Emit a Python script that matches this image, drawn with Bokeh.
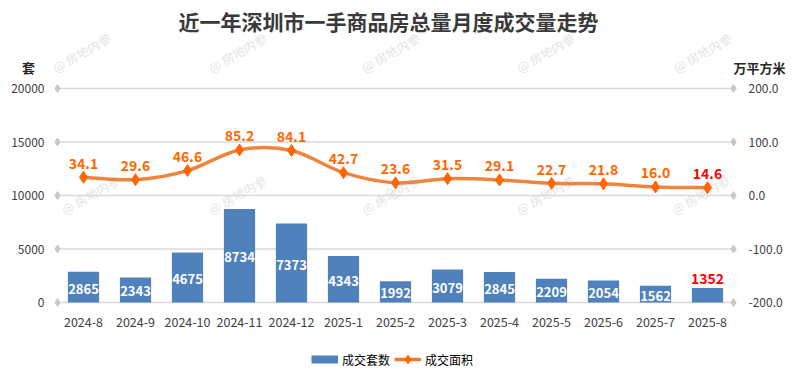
from bokeh.plotting import figure
from bokeh.layouts import column
from bokeh.models import (Range1d, LinearAxis, FixedTicker, NumeralTickFormatter,
                          Legend, LegendItem, ColumnDataSource)
from bokeh.core.properties import value
from bokeh.embed import file_html
from bokeh.resources import INLINE

# ---------------- data ----------------
months = ["2024-8", "2024-9", "2024-10", "2024-11", "2024-12", "2025-1", "2025-2",
          "2025-3", "2025-4", "2025-5", "2025-6", "2025-7", "2025-8"]
units = [2865, 2343, 4675, 8734, 7373, 4343, 1992, 3079, 2845, 2209, 2054, 1562, 1352]
area = [34.1, 29.6, 46.6, 85.2, 84.1, 42.7, 23.6, 31.5, 29.1, 22.7, 21.8, 16.0, 14.6]
left_ticks = [0, 5000, 10000, 15000, 20000]
right_ticks = [-200, -100, 0, 100, 200]
title_text = "近一年深圳市一手商品房总量月度成交量走势"
left_unit = "套"
right_unit = "万平方米"
series_names = ["成交套数", "成交面积"]
watermark = "@ 房地内参"

# ---------------- style / layout ----------------
FONT = "Noto Sans CJK SC"
BLUE = "#4F81BD"
LINE_ORANGE = "#EE7D33"
MARK_ORANGE = "#FF6600"
RED = "#FF0000"
GRID = "#D9D9D9"
TXT = "#404040"
WM_COLOR = "#B4B4B4"
WM_ALPHA = 0.4
WM_ANGLE = 0.52
WM_SIZE = "12.5px"

W = 789
HDR_H = 78           # header strip (title, units)
MAIN_H = 254         # plot with axes
FTR_H = 48           # legend strip
L, R, B = 54, 52, 26
n = len(months)
xs = list(range(n))

# pixel scale of the main plot
PX_PER_CAT = 52.0
PX_PER_UNIT = 0.0107
X0_PX = 83.0          # page x of first category
Y0_PX = 302.0         # page y of value 0
frame_top, frame_bot = HDR_H, HDR_H + MAIN_H - B
x_start = (L - X0_PX) / PX_PER_CAT
x_end = (W - R - X0_PX) / PX_PER_CAT
y_start = (Y0_PX - frame_bot) / PX_PER_UNIT
y_end = (Y0_PX - frame_top) / PX_PER_UNIT


def bare(height):
    f = figure(width=W, height=height, output_backend="svg", toolbar_location=None,
               x_range=Range1d(0, W), y_range=Range1d(height, 0),
               x_axis_location=None, y_axis_location=None, title=None,
               min_border=0, min_border_left=0, min_border_right=0,
               min_border_top=0, min_border_bottom=0)
    f.outline_line_color = None
    f.grid.visible = False
    f.frame_align = False
    return f


# ---------------- header ----------------
hdr = bare(HDR_H)
wm_cols_a = [81, 237, 390, 545, 702]
wm_cols_b = [90, 237, 390, 545, 700]
hdr.text(x=wm_cols_a, y=[52] * len(wm_cols_a), text=[watermark] * len(wm_cols_a),
         text_align="center", text_baseline="middle", angle=WM_ANGLE,
         text_font=value(FONT), text_font_size=WM_SIZE,
         text_color=WM_COLOR, text_alpha=WM_ALPHA)
hdr.text(x=[388], y=[20], text=[title_text], text_align="center", text_baseline="middle",
         text_font=value(FONT), text_font_style="bold", text_font_size="21px",
         text_color="#3A3A3A")
hdr.text(x=[28, 759], y=[67, 67], text=[left_unit, right_unit], text_align="center",
         text_baseline="middle", text_font=value(FONT), text_font_style="bold",
         text_font_size="13px", text_color="#262626")

# ---------------- main plot ----------------
p = figure(width=W, height=MAIN_H, output_backend="svg", toolbar_location=None,
           x_range=Range1d(x_start, x_end), y_range=Range1d(y_start, y_end), title=None,
           min_border_left=L, min_border_right=R, min_border_top=0, min_border_bottom=B)
p.frame_align = False
p.extra_y_ranges = {"right": Range1d(y_start / 50 - 200, y_end / 50 - 200)}
p.outline_line_color = None
p.xgrid.visible = False
p.ygrid.visible = False

p.xaxis.ticker = FixedTicker(ticks=xs)
p.xaxis.major_label_overrides = {i: m for i, m in enumerate(months)}
p.yaxis.ticker = FixedTicker(ticks=left_ticks)
p.yaxis.formatter = NumeralTickFormatter(format="0")
right_axis = LinearAxis(y_range_name="right", ticker=FixedTicker(ticks=right_ticks),
                        formatter=NumeralTickFormatter(format="0.0"))
p.add_layout(right_axis, "right")
for ax in p.axis:
    ax.axis_line_color = None
    ax.major_tick_line_color = None
    ax.minor_tick_line_color = None
    ax.major_label_text_font = FONT
    ax.major_label_text_font_size = "12px"
    ax.major_label_text_color = TXT
p.xaxis.major_label_text_font_size = "12.5px"
p.xaxis.major_label_standoff = 4
p.yaxis[0].major_label_standoff = 4
right_axis.major_label_standoff = 5

# watermarks inside the plot (page pixels -> data)
p.text(x=[(c - X0_PX) / PX_PER_CAT for c in wm_cols_b],
       y=[(Y0_PX - 194) / PX_PER_UNIT] * len(wm_cols_b), text=[watermark] * len(wm_cols_b),
       text_align="center", text_baseline="middle", angle=WM_ANGLE,
       text_font=value(FONT), text_font_size=WM_SIZE,
       text_color=WM_COLOR, text_alpha=WM_ALPHA)

# gridlines with diamond ends
p.segment(x0=[-0.5] * len(left_ticks), x1=[n - 0.5] * len(left_ticks),
          y0=left_ticks, y1=left_ticks, line_color=GRID, line_width=1.6)
p.scatter(x=[-0.5] * len(left_ticks) + [n - 0.5] * len(left_ticks),
          y=left_ticks + left_ticks, marker="diamond", size=8,
          fill_color="#C8C8C8", line_color="#C8C8C8")

# bars
p.vbar(x=xs, top=units, width=0.6, fill_color=BLUE, line_color=None)
p.text(x=xs[:-1], y=[v / 2 for v in units[:-1]], text=[str(v) for v in units[:-1]],
       text_align="center", text_baseline="middle", y_offset=1.5,
       text_font=value(FONT), text_font_style="bold", text_font_size="13px",
       text_color="white")
p.text(x=xs[-1:], y=units[-1:], text=[str(v) for v in units[-1:]],
       text_align="center", text_baseline="middle", y_offset=-10,
       text_font=value(FONT), text_font_style="bold", text_font_size="14px",
       text_color=RED)

# smooth line (Catmull-Rom as cubic Bezier segments between the data points)
bz = dict(x0=[], y0=[], x1=[], y1=[], cx0=[], cy0=[], cx1=[], cy1=[])
for i in range(n - 1):
    a, b = max(i - 1, 0), min(i + 2, n - 1)
    bz["x0"].append(xs[i]); bz["y0"].append(area[i])
    bz["x1"].append(xs[i + 1]); bz["y1"].append(area[i + 1])
    bz["cx0"].append(xs[i] + (xs[i + 1] - xs[a]) / 6)
    bz["cy0"].append(area[i] + (area[i + 1] - area[a]) / 6)
    bz["cx1"].append(xs[i + 1] - (xs[b] - xs[i]) / 6)
    bz["cy1"].append(area[i + 1] - (area[b] - area[i]) / 6)
p.bezier(x0="x0", y0="y0", x1="x1", y1="y1", cx0="cx0", cy0="cy0", cx1="cx1", cy1="cy1",
         source=ColumnDataSource(bz), y_range_name="right",
         line_color=LINE_ORANGE, line_width=3.5, line_alpha=0.95)
p.scatter(x=xs, y=area, y_range_name="right", marker="diamond", size=12,
          fill_color=MARK_ORANGE, line_color=MARK_ORANGE)
p.text(x=xs[:-1], y=area[:-1], text=["%.1f" % v for v in area[:-1]], y_range_name="right",
       text_align="center", text_baseline="middle", y_offset=-14,
       text_font=value(FONT), text_font_style="bold", text_font_size="14px",
       text_color=MARK_ORANGE)
p.text(x=xs[-1:], y=area[-1:], text=["%.1f" % v for v in area[-1:]], y_range_name="right",
       text_align="center", text_baseline="middle", y_offset=-14,
       text_font=value(FONT), text_font_style="bold", text_font_size="14px",
       text_color=RED)

# ---------------- footer with legend ----------------
# the swatch renderers carry the series but sit on an off-screen range
ftr = bare(FTR_H)
ftr.extra_x_ranges = {"off": Range1d(1000, 2000)}
sw_bar = ftr.line(x=xs, y=[FTR_H / 2] * n, x_range_name="off",
                  line_color=BLUE, line_width=8)
sw_line = ftr.line(x=xs, y=[FTR_H / 2] * n, x_range_name="off",
                   line_color=LINE_ORANGE, line_width=3.5)
sw_pt = ftr.scatter(x=xs, y=[FTR_H / 2] * n, x_range_name="off", marker="diamond",
                    size=12, fill_color=MARK_ORANGE, line_color=MARK_ORANGE)
legend = Legend(items=[LegendItem(label=series_names[0], renderers=[sw_bar]),
                       LegendItem(label=series_names[1], renderers=[sw_line, sw_pt])],
                orientation="horizontal", location=(311, 10),
                glyph_width=27, glyph_height=22, label_standoff=4, spacing=4,
                padding=4, margin=0, border_line_color=None, background_fill_alpha=0,
                label_text_font=FONT, label_text_font_size="12px",
                label_text_color="#000000")
ftr.add_layout(legend, "center")

layout = column(hdr, p, ftr, spacing=0)
open("out.html", "w").write(file_html(layout, INLINE))
